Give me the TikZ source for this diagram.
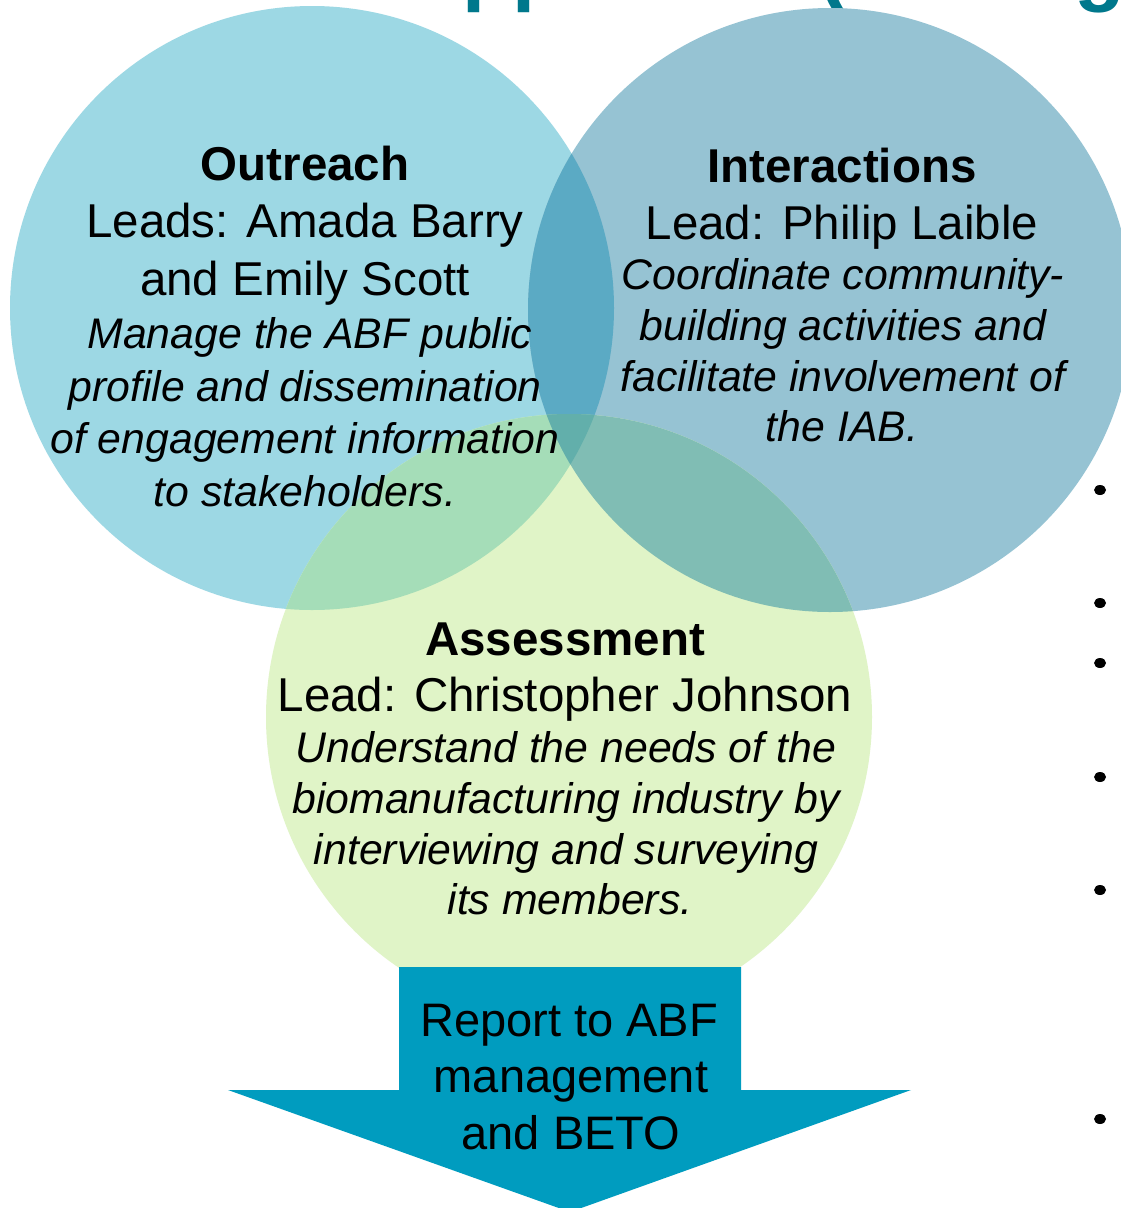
\documentclass[tikz,border=0pt]{standalone}
\usepackage{fontspec}
\setmainfont{Liberation Sans}
\usetikzlibrary{shapes.geometric}
\definecolor{cA}{HTML}{9DD8E4}
\definecolor{cI}{HTML}{96C3D3}
\definecolor{cS}{HTML}{E0F4C7}
\definecolor{cAI}{HTML}{5BAAC4}
\definecolor{cAS}{HTML}{A5DDB8}
\definecolor{cIS}{HTML}{80BDB4}
\definecolor{cAIS}{HTML}{62AFAB}
\definecolor{arrowc}{HTML}{009CBF}
\definecolor{titlec}{HTML}{00788C}
\begin{document}
\begin{tikzpicture}[x=1pt,y=-1pt,
  every node/.style={inner sep=0pt, outer sep=0pt},
  headtxt/.style={anchor=base, font=\bfseries\fontsize{47.5}{57}\selectfont},
  leadtxt/.style={anchor=base, font=\fontsize{47.5}{57}\selectfont},
  desctxt/.style={anchor=base, font=\itshape\fontsize{42.8}{51}\selectfont},
  arrowtxt/.style={anchor=base, font=\fontsize{47}{57}\selectfont},
  titlefrag/.style={anchor=base west, text=titlec, font=\bfseries\fontsize{83}{90}\selectfont},
  bulletdot/.style={ellipse, fill=black, minimum width=12pt, minimum height=10pt}]
\useasboundingbox (0,0) rectangle (1121,1208);
\clip (0,0) rectangle (1121,1208);
\fill[white] (0,0) rectangle (1121,1208);

% title fragments (cut off at top, as in the reference)
\node[titlefrag] (tp) at (462,-4.5) {pp};
\node[titlefrag] (tpar) at (818,-4.5) {(};
\node[titlefrag] (tg) at (1074,-4.5) {g};

% circle centres
\coordinate (cOut) at (312,308);
\coordinate (cInt) at (830,310);
\coordinate (cAss) at (569,717);

% base circles
\fill[cA] (cOut) circle[radius=302pt];
\fill[cI] (cInt) circle[radius=302pt];
\fill[cS] (cAss) circle[radius=303pt];
% overlaps
\begin{scope}
  \clip (cOut) circle[radius=302pt];
  \fill[cAI] (cInt) circle[radius=302pt];
  \fill[cAS] (cAss) circle[radius=303pt];
\end{scope}
\begin{scope}
  \clip (cInt) circle[radius=302pt];
  \fill[cIS] (cAss) circle[radius=303pt];
\end{scope}
\begin{scope}
  \clip (cOut) circle[radius=302pt];
  \clip (cInt) circle[radius=302pt];
  \fill[cAIS] (cAss) circle[radius=303pt];
\end{scope}

% Outreach
\node[headtxt] (o1) at (305,180) {Outreach};
\node[leadtxt] (o2) at (305,237) {Leads: Amada Barry};
\node[leadtxt] (o3) at (305,295) {and Emily Scott};
\node[desctxt] (o4) at (310,348) {Manage the ABF public};
\node[desctxt] (o5) at (305,401) {profile and dissemination};
\node[desctxt] (o6) at (305,453) {of engagement information};
\node[desctxt] (o7) at (305,506) {to stakeholders.};

% Interactions
\node[headtxt] (i1) at (842,182) {Interactions};
\node[leadtxt] (i2) at (842,239) {Lead: Philip Laible};
\node[desctxt] (i3) at (843,289) {Coordinate community-};
\node[desctxt] (i4) at (843,340) {building activities and};
\node[desctxt] (i5) at (843,391) {facilitate involvement of};
\node[desctxt] (i6) at (842,441) {the IAB.};

% Assessment
\node[headtxt] (a1) at (565,655) {Assessment};
\node[leadtxt] (a2) at (565,711) {Lead: Christopher Johnson};
\node[desctxt] (a3) at (566,762) {Understand the needs of the};
\node[desctxt] (a4) at (566,813) {biomanufacturing industry by};
\node[desctxt] (a5) at (566,864) {interviewing and surveying};
\node[desctxt] (a6) at (570,914) {its members.};

% arrow
\fill[arrowc] (399,967) -- (741,967) -- (741,1090) -- (911,1090) -- (570,1212)
  -- (228,1090) -- (399,1090) -- cycle;
\node[arrowtxt] (r1) at (569,1036) {Report to ABF};
\node[arrowtxt] (r2) at (571,1092) {management};
\node[arrowtxt] (r3) at (571,1149) {and BETO};

% bullets of cut-off list
\node[bulletdot] (b1) at (1100,490) {};
\node[bulletdot] (b2) at (1100,603) {};
\node[bulletdot] (b3) at (1100,663) {};
\node[bulletdot] (b4) at (1100,777) {};
\node[bulletdot] (b5) at (1100,890) {};
\node[bulletdot] (b6) at (1100,1119) {};
\end{tikzpicture}
\end{document}
